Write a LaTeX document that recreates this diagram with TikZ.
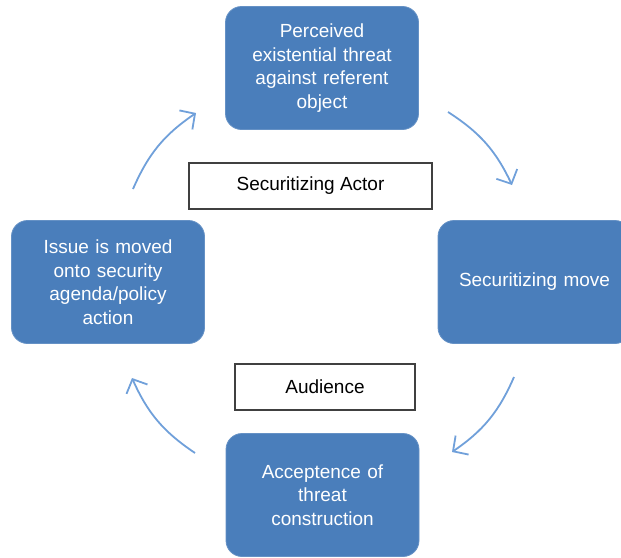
\documentclass[tikz,border=0pt]{standalone}
\usepackage{fontspec}
\setmainfont{Liberation Sans}
\usepackage{xcolor}
\usetikzlibrary{arrows.meta, positioning}

\definecolor{boxblue}{RGB}{74,126,187}
\definecolor{arcblue}{RGB}{112,160,218}

\begin{document}
\begin{tikzpicture}[
    x=1pt, y=-1pt,
    stage/.style={rectangle, rounded corners=16pt, fill=boxblue,
                  draw=boxblue!85!white, line width=0.8pt,
                  minimum width=193pt, minimum height=123pt,
                  text width=180pt, align=center, text=white,
                  font=\fontsize{19}{23.5}\selectfont},
    role/.style={rectangle, draw=black!75, line width=1.3pt, fill=white,
                 minimum height=46pt, font=\fontsize{19}{23.5}\selectfont},
    cyc/.style={-{Straight Barb[length=11pt,width=23pt]}, arcblue,
                line width=1.8pt, bend left=16}
]
\useasboundingbox (0,0) rectangle (621,557);

\node[stage] (threat) at (322,68)    {Perceived\\existential threat\\against referent\\object};
\node[stage] (move)   at (534.5,282) {Securitizing move};
\node[stage] (accept) at (322.5,495) {Acceptence of\\threat\\construction};
\node[stage] (issue)  at (108,282)   {Issue is moved\\onto security\\agenda/policy\\action};

\node[role, minimum width=243pt] (actor)    at (310.5,186) {Securitizing Actor};
\node[role, minimum width=180pt] (audience) at (325,387)   {Audience};

% free-standing arcs of the cycle
\coordinate (arc1s) at (133,189);  \coordinate (arc1e) at (196,113);
\coordinate (arc2s) at (448,112);  \coordinate (arc2e) at (512,185);
\coordinate (arc3s) at (514,377);  \coordinate (arc3e) at (452,452);
\coordinate (arc4s) at (195,453);  \coordinate (arc4e) at (132,378);

\draw[cyc] (arc1s) to (arc1e);
\draw[cyc] (arc2s) to (arc2e);
\draw[cyc] (arc3s) to (arc3e);
\draw[cyc] (arc4s) to (arc4e);
\end{tikzpicture}
\end{document}
